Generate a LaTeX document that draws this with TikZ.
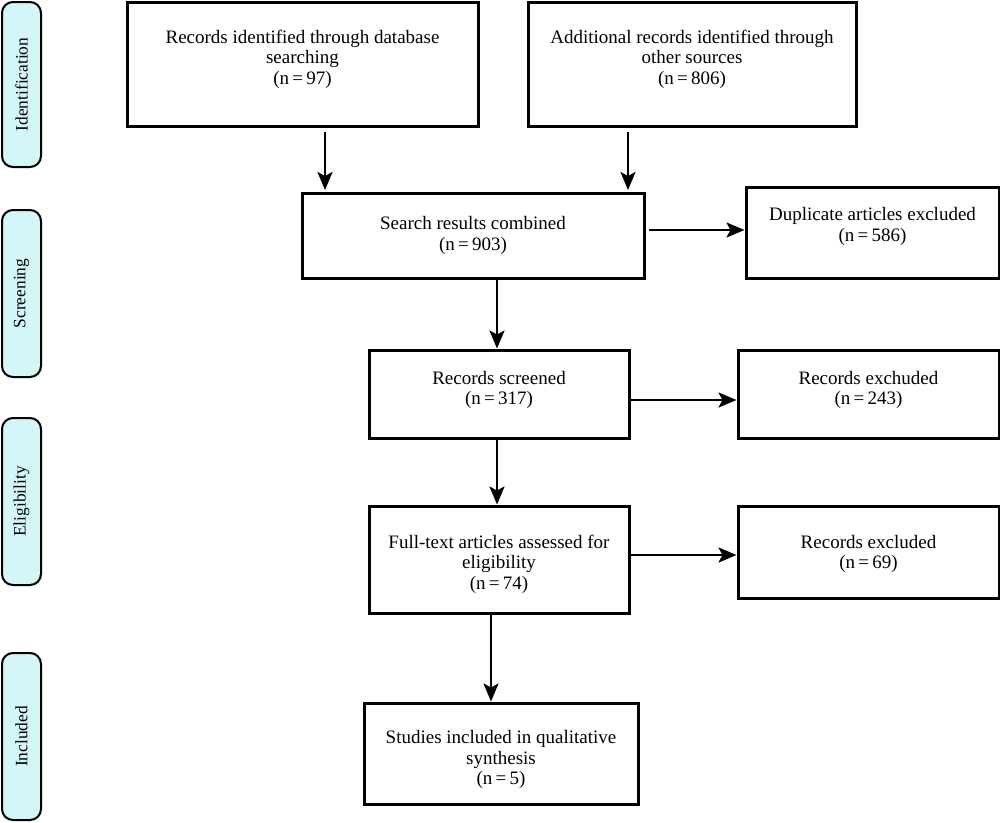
\documentclass[tikz,border=0pt]{standalone}
\usepackage{fontspec}
\setmainfont{Liberation Serif}
\usetikzlibrary{arrows.meta}
\definecolor{phase}{HTML}{D5F6F9}
\begin{document}
\begin{tikzpicture}[x=1pt,y=-1pt,
  box/.style={draw=black,line width=3pt,fill=white,inner sep=0pt},
  txt/.style={align=center,inner sep=0pt,font=\fontsize{19}{20.5}\selectfont},
  phasebox/.style={draw=black,line width=2pt,fill=phase,rounded corners=11pt,inner sep=0pt},
  flow/.style={line width=2.6pt,-{Stealth[length=18pt,width=15pt,inset=4pt]}},
  lbl/.style={rotate=90,inner sep=0pt,font=\fontsize{17.4}{20}\selectfont}]
\useasboundingbox (0,0) rectangle (1000,822);
% phase labels
\draw[phasebox] (2,2) rectangle (41,167);
\node[lbl] (pi) at (21.5,84.5) {Identification};
\draw[phasebox] (2,210) rectangle (41,377);
\node[lbl] (ps) at (21.5,293.5) {Screening};
\draw[phasebox] (2,418) rectangle (41,585);
\node[lbl] (pe) at (21.5,501.5) {Eligibility};
\draw[phasebox] (2,653) rectangle (41,820);
\node[lbl] (pin) at (21.5,736.5) {Included};
% boxes
\node[box,minimum width=351pt,minimum height=124pt] (db) at (302.5,64) {};
\node[txt] (dbt) at (302.5,59) {Records identified through database\\searching\\(n\,=\,97)};
\node[box,minimum width=328pt,minimum height=124pt] (other) at (692,64) {};
\node[txt] (othert) at (692,59) {Additional records identified through\\other sources\\(n\,=\,806)};
\node[box,minimum width=342pt,minimum height=85pt] (comb) at (473,235.5) {};
\node[txt] (combt) at (473,235.5) {Search results combined\\(n\,=\,903)};
\node[box,minimum width=253pt,minimum height=91pt] (dup) at (872.5,232.5) {};
\node[txt] (dupt) at (872.5,226.5) {Duplicate articles excluded\\(n\,=\,586)};
\node[box,minimum width=260pt,minimum height=88pt] (scr) at (499,394) {};
\node[txt] (scrt) at (499,390) {Records screened\\(n\,=\,317)};
\node[box,minimum width=261pt,minimum height=88pt] (exc1) at (868.5,394) {};
\node[txt] (exc1t) at (868.5,390) {Records exchuded\\(n\,=\,243)};
\node[box,minimum width=260pt,minimum height=107pt] (full) at (499,559.5) {};
\node[txt] (fullt) at (499,564) {Full-text articles assessed for\\eligibility\\(n\,=\,74)};
\node[box,minimum width=261pt,minimum height=92pt] (exc2) at (868.5,552) {};
\node[txt] (exc2t) at (868.5,554) {Records excluded\\(n\,=\,69)};
\node[box,minimum width=274pt,minimum height=101pt] (inc) at (501,753.5) {};
\node[txt] (inct) at (501,759.5) {Studies included in qualitative\\synthesis\\(n\,=\,5)};
% arrows
\draw[flow] (db.south -| 325,0) ++(0,4) -- (325,190);
\draw[flow] (other.south -| 628,0) ++(0,4) -- (628,190);
\draw[flow] (comb.east |- 0,230) ++(3,0) -- (dup.west |- 0,230);
\draw[flow] (comb.south -| 497,0) -- (scr.north -| 497,0);
\draw[flow] (scr.east |- 0,400) -- (exc1.west |- 0,400);
\draw[flow] (scr.south -| 497,0) -- (full.north -| 497,0);
\draw[flow] (full.east |- 0,555) -- (exc2.west |- 0,555);
\draw[flow] (full.south -| 491,0) -- (inc.north -| 491,0);
\end{tikzpicture}
\end{document}
